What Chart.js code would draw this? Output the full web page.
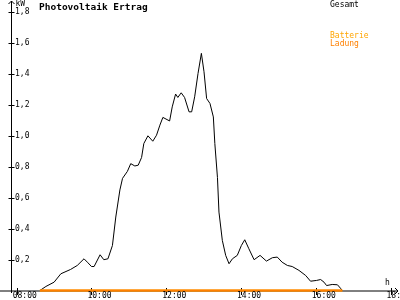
<!DOCTYPE html>
<html>
<head>
<meta charset="utf-8">
<script src="https://cdn.jsdelivr.net/npm/chart.js@4/dist/chart.umd.min.js"></script>
<style>
  html, body { margin: 0; padding: 0; background: #fff; }
  #wrap { width: 400px; height: 300px; }
</style>
</head>
<body>
<div id="wrap"><canvas id="chart" width="400" height="300"></canvas></div>
<script>
// Uhrzeit in Stunden, Leistung in kW
const times = [8.62, 8.78, 9.0, 9.18, 9.44, 9.62, 9.8, 9.89, 10.0, 10.07, 10.23, 10.33, 10.44, 10.56,
  10.65, 10.76, 10.83, 10.96, 11.05, 11.16, 11.25, 11.34, 11.4, 11.51, 11.64, 11.74, 11.83, 11.91,
  12.09, 12.16, 12.25, 12.31, 12.4, 12.49, 12.61, 12.68, 12.76, 12.85, 12.94, 13.01, 13.08, 13.17,
  13.26, 13.3, 13.37, 13.41, 13.5, 13.59, 13.68, 13.77, 13.9, 14.01, 14.1, 14.21, 14.35, 14.51,
  14.68, 14.84, 14.97, 15.1, 15.24, 15.37, 15.55, 15.73, 15.86, 16.02, 16.13, 16.22, 16.29, 16.44,
  16.58, 16.66, 16.71];
const gesamt = [0, 0.026, 0.054, 0.108, 0.136, 0.162, 0.205, 0.183, 0.155, 0.155, 0.231, 0.199, 0.205, 0.291,
  0.475, 0.65, 0.725, 0.77, 0.82, 0.805, 0.81, 0.86, 0.95, 1.0, 0.965, 1.004, 1.069, 1.119,
  1.096, 1.187, 1.27, 1.248, 1.278, 1.248, 1.155, 1.155, 1.252, 1.403, 1.533, 1.414, 1.241, 1.209,
  1.122, 0.95, 0.73, 0.507, 0.324, 0.227, 0.173, 0.205, 0.227, 0.291, 0.328, 0.27, 0.199, 0.227,
  0.19, 0.212, 0.216, 0.183, 0.162, 0.155, 0.13, 0.097, 0.06, 0.065, 0.071, 0.054, 0.032, 0.039,
  0.037, 0.015, 0];
const batterieTimes = [8.62, 16.71];
const batterie = [0, 0];
const ladung = [0, 0];

const xTickValues = [8, 10, 12, 14, 16, 18];
const xTickLabels = ["08:00", "10:00", "12:00", "14:00", "16:00", "18:00"];
const yTickValues = [0.2, 0.4, 0.6, 0.8, 1.0, 1.2, 1.4, 1.6, 1.8];
const yTickLabels = ["0,2", "0,4", "0,6", "0,8", "1,0", "1,2", "1,4", "1,6", "1,8"];

const seriesNames = ["Gesamt", "Batterie", "Ladung"];
const seriesColors = ["#000000", "#ffa500", "#ff8000"];

const smallFont = "8px 'DejaVu Sans Mono'";

function toPoints(xs, ys) {
  return xs.map((x, i) => ({ x: x, y: ys[i] }));
}

// Achsen mit Pfeilen und Strichen, danach die Texte
const axesPlugin = {
  id: "axesPlugin",
  beforeDatasetsDraw(chart) {
    const ctx = chart.ctx;
    const xs = chart.scales.x;
    const ys = chart.scales.y;
    const x0 = xs.getPixelForValue(xs.min);
    const y0 = ys.getPixelForValue(0) + 0.5;
    ctx.save();
    ctx.strokeStyle = "#000";
    ctx.lineWidth = 1;
    ctx.beginPath();
    // y-Achse
    ctx.moveTo(x0, 293);
    ctx.lineTo(x0, 1);
    ctx.moveTo(x0 - 3, 4);
    ctx.lineTo(x0, 1);
    ctx.lineTo(x0 + 3, 4);
    // x-Achse
    ctx.moveTo(0, y0);
    ctx.lineTo(398, y0);
    ctx.moveTo(395, y0 - 3);
    ctx.lineTo(398, y0);
    ctx.lineTo(395, y0 + 3);
    yTickValues.forEach((v) => {
      const py = Math.round(ys.getPixelForValue(v)) + 0.5;
      ctx.moveTo(x0 - 3, py);
      ctx.lineTo(x0 + 3, py);
    });
    xTickValues.forEach((v) => {
      const px = Math.round(xs.getPixelForValue(v)) + 0.5;
      ctx.moveTo(px, y0 - 3);
      ctx.lineTo(px, y0 + 4);
    });
    ctx.stroke();
    ctx.restore();
  },
  afterDraw(chart) {
    const ctx = chart.ctx;
    const xs = chart.scales.x;
    const ys = chart.scales.y;
    const x0 = xs.getPixelForValue(xs.min);
    ctx.save();
    ctx.fillStyle = "#000";
    ctx.font = smallFont;
    ctx.textBaseline = "middle";
    ctx.textAlign = "left";
    yTickValues.forEach((v, i) => {
      ctx.fillText(yTickLabels[i], x0 + 3.5, ys.getPixelForValue(v));
    });
    xTickValues.forEach((v, i) => {
      ctx.fillText(xTickLabels[i], xs.getPixelForValue(v) - 4, 295.5);
    });
    ctx.fillText("kW", x0 + 4, 4);
    ctx.fillText("h", 385, 282.5);

    ctx.font = "bold 9.5px 'DejaVu Sans Mono'";
    ctx.fillText("Photovoltaik Ertrag", 39, 8);

    ctx.font = smallFont;
    ctx.fillStyle = seriesColors[0];
    ctx.fillText(seriesNames[0], 330, 5);
    ctx.fillStyle = seriesColors[1];
    ctx.fillText(seriesNames[1], 330, 36);
    ctx.fillStyle = seriesColors[2];
    ctx.fillText(seriesNames[2], 330, 44);
    ctx.restore();
  }
};

new Chart(document.getElementById("chart"), {
  type: "line",
  data: {
    datasets: [
      {
        label: seriesNames[2],
        data: toPoints(batterieTimes, ladung),
        borderColor: seriesColors[2],
        borderWidth: 2,
        pointRadius: 0,
        tension: 0,
        clip: false
      },
      {
        label: seriesNames[1],
        data: toPoints(batterieTimes, batterie),
        borderColor: seriesColors[1],
        borderWidth: 2,
        pointRadius: 0,
        tension: 0,
        clip: false
      },
      {
        label: seriesNames[0],
        data: toPoints(times, gesamt),
        borderColor: seriesColors[0],
        borderWidth: 1,
        pointRadius: 0,
        tension: 0
      }
    ]
  },
  options: {
    responsive: false,
    animation: false,
    layout: { padding: { left: 11.5, right: 2, top: 2, bottom: 9.5 } },
    plugins: {
      legend: { display: false },
      title: { display: false },
      tooltip: { enabled: false }
    },
    scales: {
      x: { type: "linear", display: false, min: 7.86, max: 18.2 },
      y: { type: "linear", display: false, min: 0, max: 1.865 }
    }
  },
  plugins: [axesPlugin]
});
</script>
</body>
</html>
